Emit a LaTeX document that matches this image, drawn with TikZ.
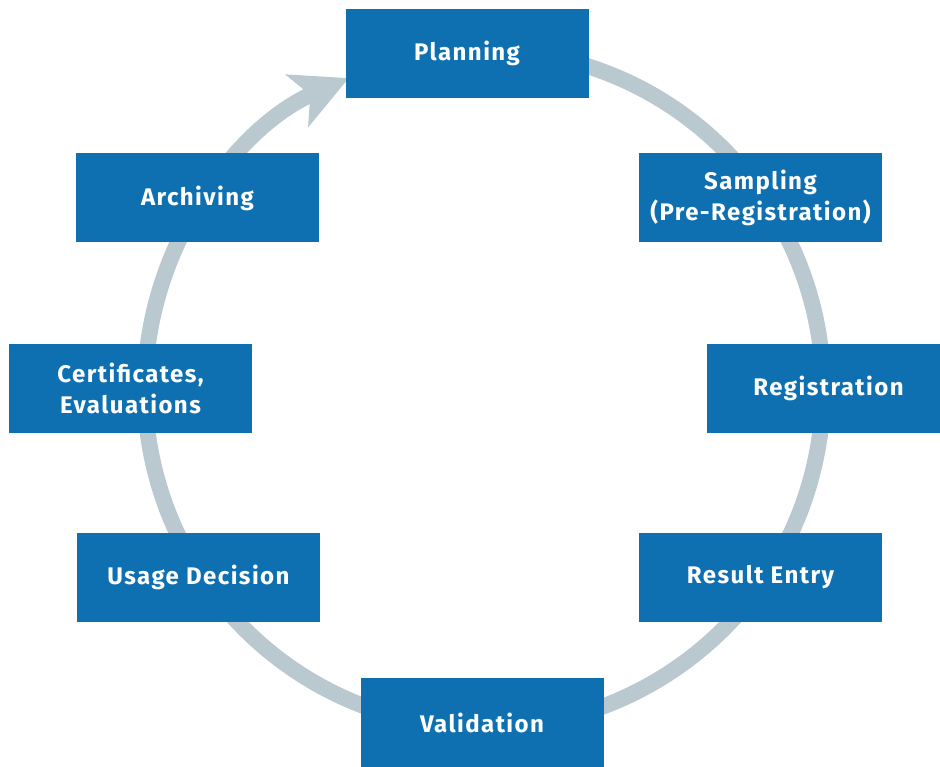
\documentclass[tikz,border=0pt]{standalone}
\usepackage{fontspec}
\setmainfont{Fira Sans}[LetterSpace=6]
\usepackage{tikz}
\usetikzlibrary{arrows.meta}

\definecolor{boxblue}{HTML}{0F70B1}
\definecolor{ringgray}{HTML}{BAC8CF}

\begin{document}
\begin{tikzpicture}[
		x=1pt, y=1pt,
		box/.style={rectangle, fill=boxblue, text=white, minimum width=243pt, minimum height=89pt, text centered, align=center, font=\fontsize{24}{31}\selectfont\bfseries},  % blue boxes
		ring/.style={ringgray, line width=16pt, -{Stealth[length=56pt, width=56pt, inset=14pt]}}  % grey cycle
		]
		\useasboundingbox (0,0) rectangle (940,766);
		% cycle ring, clockwise, ends at Planning
		\coordinate (c) at (484,377);
		\draw[ring] ([shift={(78:339)}]c) arc[start angle=78, end angle=-246.5, radius=339];
		% boxes round the ring
		\node[box] (planning) at (467,712.5) {Planning};
		\node[box] (sampling) at (760.5,568) {Sampling\\(Pre-Registration)};
		\node[box] (registration) at (828.5,377.5) {Registration};
		\node[box] (result) at (760.5,188.5) {Result Entry};
		\node[box] (validation) at (482,43.5) {Validation};
		\node[box] (usage) at (198.5,188.5) {Usage Decision};
		\node[box] (certificates) at (130.5,377.5) {Certificates,\\Evaluations};
		\node[box] (archiving) at (197.5,568) {Archiving};
	\end{tikzpicture}
\end{document}
